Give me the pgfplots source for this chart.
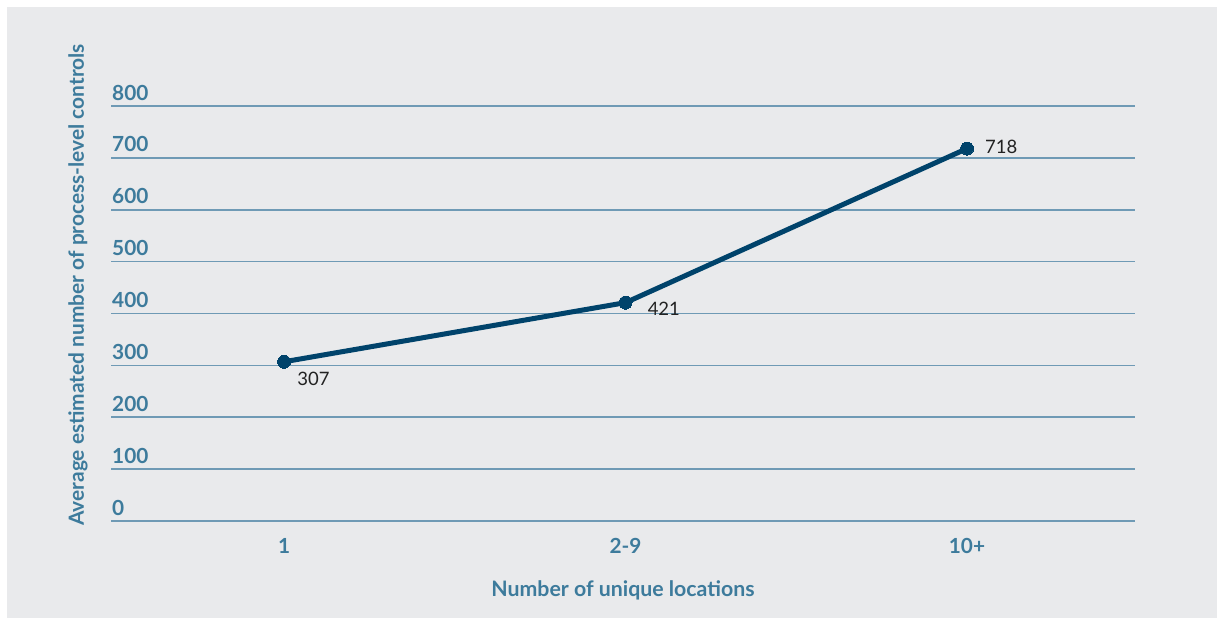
\documentclass[border=0pt]{standalone}
\usepackage{fontspec}
\setmainfont{Lato}
\usepackage{pgfplots}
\pgfplotsset{compat=1.18}
\definecolor{bg}{HTML}{E9EAEC}
\definecolor{lab}{HTML}{3D7B9C}
\definecolor{grd}{HTML}{6F9AB5}
\definecolor{ln}{HTML}{00436B}
\definecolor{txt}{HTML}{222222}
\begin{document}
\begin{tikzpicture}[x=1pt,y=1pt]
\fill[white] (0,0) rectangle (1224,-625);
\fill[bg] (7,-7) rectangle (1217,-618);
\begin{axis}[
  at={(111pt,-521pt)}, anchor=south west,
  scale only axis, width=1024pt, height=415pt,
  xmin=-0.507, xmax=2.492, ymin=0, ymax=800,
  xtick={0,1,2}, xticklabels={1,2-9,10+},
  ytick={0,100,...,800},
  ymajorgrids, grid style={grd, line width=1.6pt},
  axis line style={draw=none}, major tick length=0pt, tick style={draw=none},
  clip=false,
  /pgf/number format/assume math mode=true,
  ticklabel style={font=\fontsize{20.8}{24}\selectfont\bfseries, text=lab},
  yticklabel style={anchor=base west, inner sep=0pt, xshift=1pt, yshift=6pt},
  xticklabel style={anchor=center, inner sep=0pt, yshift=-25pt},
  xlabel={Number of unique locations},
  ylabel={Average estimated number of process-level controls},
  every axis x label/.style={at={(axis description cs:0.5,-0.168)}, anchor=center, font=\fontsize{21.3}{25}\selectfont\bfseries, text=lab},
  every axis y label/.style={at={(axis description cs:-0.0322,0.569)}, anchor=center, rotate=90, font=\fontsize{20.9}{25}\selectfont\bfseries, text=lab},
]
\addplot[ln, line width=5pt, mark=*, mark size=6.5pt, mark options={solid, fill=ln, draw=ln, line width=0pt}] coordinates {(0,307) (1,421) (2,718)};
\node[anchor=west, inner sep=0pt, xshift=13pt, yshift=-17pt, font=\fontsize{18.5}{22}\selectfont, text=txt] at (axis cs:0,307) {307};
\node[anchor=west, inner sep=0pt, xshift=22pt, yshift=-6pt, font=\fontsize{18.5}{22}\selectfont, text=txt] at (axis cs:1,421) {421};
\node[anchor=west, inner sep=0pt, xshift=18pt, yshift=2pt, font=\fontsize{18.5}{22}\selectfont, text=txt] at (axis cs:2,718) {718};
\end{axis}
\end{tikzpicture}
\end{document}
